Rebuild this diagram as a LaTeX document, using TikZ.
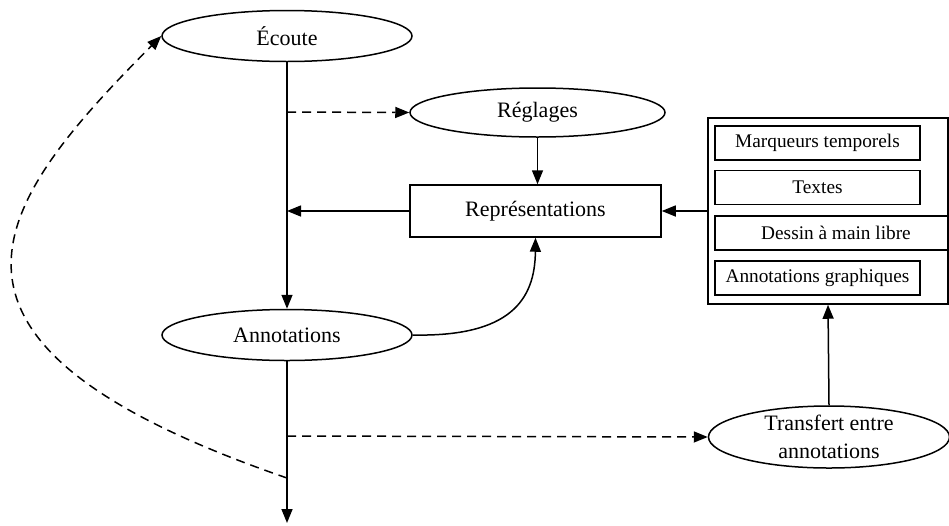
\documentclass[tikz,border=0pt]{standalone}
\usepackage{fontspec}
\setmainfont{Liberation Serif}
\usetikzlibrary{shapes.geometric,arrows.meta}
\begin{document}
\begin{tikzpicture}[x=1pt,y=-1pt,
  ell/.style={draw,ellipse,line width=1.5pt,minimum width=250pt,minimum height=51pt,inner sep=0pt,font=\fontsize{22}{28}\selectfont},
  bigbox/.style={draw,rectangle,line width=1.5pt,minimum width=251pt,minimum height=52pt,inner sep=0pt,font=\fontsize{22}{28}\selectfont},
  smallbox/.style={draw,rectangle,line width=1.5pt,minimum width=205pt,minimum height=34pt,inner sep=0pt,font=\fontsize{19.3}{23}\selectfont},
  outer/.style={draw,rectangle,line width=1.5pt,inner sep=0pt},
  conn/.style={line width=1.5pt,-{Triangle[length=14pt,width=11pt]}},
  dconn/.style={conn,dash pattern=on 9pt off 6pt}
]
\useasboundingbox (0,0) rectangle (949,525);
\node[ell] (ecoute) at (287,36) {Écoute};
\node[ell,minimum width=255pt,minimum height=49pt] (reglages) at (537.5,112.5) {Réglages};
\node[bigbox] (repr) at (535.5,211) {Représentations};
\node[ell] (annot) at (287,335) {Annotations};
\node[ell,minimum width=241pt,minimum height=62pt,align=center] (transfert) at (829,437) {Transfert entre\\annotations};
\node[smallbox] (marq) at (817.5,143) {Marqueurs temporels};
\node[smallbox] (textes) at (817.5,187.5) {Textes};
\node[smallbox,minimum width=242pt] (dessin) at (836,233) {Dessin à main libre};
\node[smallbox] (graph) at (817.5,278) {Annotations graphiques};
\node[outer,minimum width=240pt,minimum height=186pt] (panel) at (828,211) {};
\coordinate (c1) at (287,112);
\coordinate (c2) at (287,211);
\coordinate (c3) at (287,436);
\coordinate (c4) at (287,478);
\coordinate (bottom) at (287,523);
\draw[conn] (ecoute.south) -- (annot.north);
\draw[dconn] (c1) -- (reglages.west);
\draw[conn] (reglages.south) -- (reglages.south |- repr.north);
\draw[conn] (repr.west) -- (c2);
\draw[conn] (panel.west) -- (repr.east);
\draw[conn] (annot.east) .. controls (510,337) and (535,300) .. (repr.south);
\draw[conn] (annot.south) -- (bottom);
\draw[dconn] (c3) -- (transfert.west);
\draw[conn] (transfert.north) -- (panel.south);
\draw[dconn] (c4) .. controls (-108,342) and (-8,206) .. (ecoute.west);
\end{tikzpicture}
\end{document}
